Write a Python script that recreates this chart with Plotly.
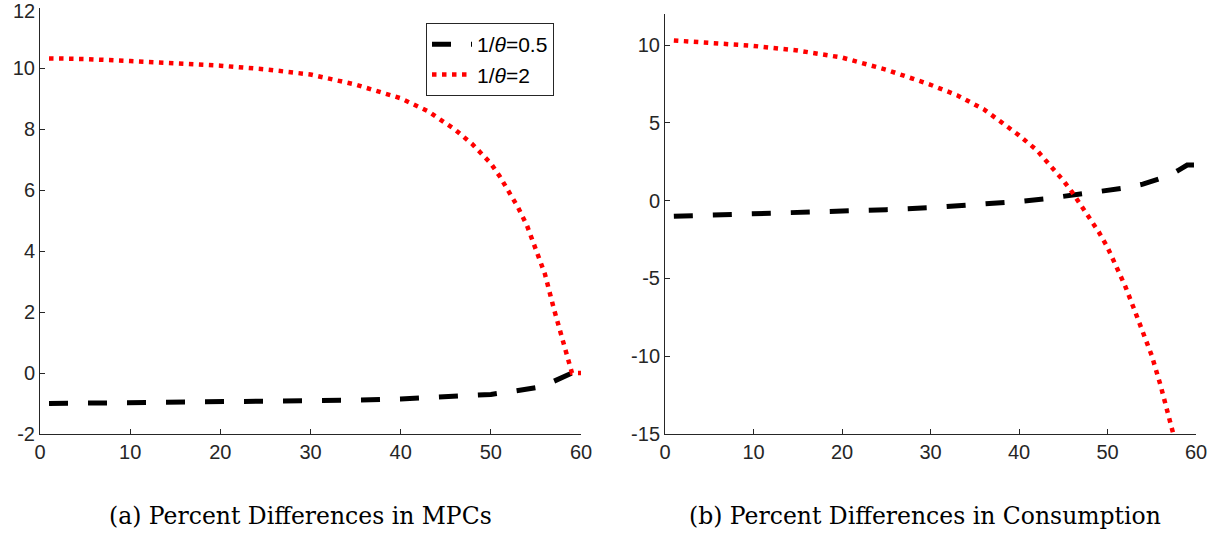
import plotly.graph_objects as go

# ---------------- data ----------------
# Panel (a): Percent Differences in MPCs
mpc_x_half = [1, 5, 10, 15, 20, 25, 30, 35, 40, 45, 48, 50, 52, 54, 55, 56, 57, 58, 59, 60]
mpc_y_half = [-1.0, -0.99, -0.98, -0.97, -0.96, -0.94, -0.92, -0.89, -0.85, -0.79,
              -0.74, -0.70, -0.62, -0.55, -0.48, -0.40, -0.28, -0.14, 0.0, 0.0]

mpc_x_two = [1, 5, 10, 15, 20, 25, 30, 35, 40, 43, 46, 48, 50, 51, 52, 53, 54, 55, 56, 57, 58, 59, 60]
mpc_y_two = [10.33, 10.31, 10.24, 10.17, 10.09, 9.97, 9.80, 9.47, 9.02, 8.60, 8.00, 7.50,
             6.88, 6.45, 5.98, 5.45, 4.85, 4.05, 3.25, 2.10, 1.00, 0.0, 0.0]

# Panel (b): Percent Differences in Consumption
con_x_half = [1, 5, 10, 15, 20, 25, 30, 35, 40, 43, 46, 48, 50, 52, 54, 55, 56, 57, 58, 59, 60]
con_y_half = [-1.0, -0.94, -0.88, -0.80, -0.70, -0.58, -0.45, -0.27, -0.05, 0.12, 0.34, 0.48,
              0.64, 0.82, 1.06, 1.22, 1.40, 1.62, 1.95, 2.29, 2.29]

con_x_two = [1, 5, 10, 15, 20, 25, 30, 33, 36, 38, 40, 42, 44, 45, 46, 47, 48, 49, 50,
             51, 52, 53, 54, 55, 56, 57, 58, 59, 60]
con_y_two = [10.30, 10.17, 9.95, 9.65, 9.20, 8.42, 7.45, 6.78, 5.88, 5.05, 4.20, 3.25, 1.97,
             1.30, 0.55, -0.31, -1.25, -2.00, -3.00, -4.19, -5.49, -6.96, -8.56, -9.96,
             -11.88, -13.93, -16.10, -18.40, -18.40]

legend_names = ["1/<i>θ</i>=0.5", "1/<i>θ</i>=2"]

x_ticks = [0, 10, 20, 30, 40, 50, 60]
x_ticktext = ["0", "10", "20", "30", "40", "50", "60"]
ya_ticks = [-2, 0, 2, 4, 6, 8, 10, 12]
ya_ticktext = ["-2", "0", "2", "4", "6", "8", "10", "12"]
yb_ticks = [-15, -10, -5, 0, 5, 10]
yb_ticktext = ["-15", "-10", "-5", "0", "5", "10"]

captions = ["(a) Percent Differences in MPCs", "(b) Percent Differences in Consumption"]

# ---------------- figure ----------------
W, H = 1224, 535
AX = "#262626"

black_line = dict(color="#000000", width=5, dash="19px,20px")
red_line = dict(color="#ff0000", width=4.5, dash="4.5px,5.5px")

fig = go.Figure()
fig.add_trace(go.Scatter(x=mpc_x_half, y=mpc_y_half, mode="lines", name=legend_names[0],
                         line=black_line, xaxis="x", yaxis="y"))
fig.add_trace(go.Scatter(x=mpc_x_two, y=mpc_y_two, mode="lines", name=legend_names[1],
                         line=red_line, xaxis="x", yaxis="y"))
fig.add_trace(go.Scatter(x=con_x_half, y=con_y_half, mode="lines", name=legend_names[0],
                         line=black_line, xaxis="x2", yaxis="y2", showlegend=False))
fig.add_trace(go.Scatter(x=con_x_two, y=con_y_two, mode="lines", name=legend_names[1],
                         line=red_line, xaxis="x2", yaxis="y2", showlegend=False))

tickfont = dict(family="Liberation Sans, Arial, sans-serif", size=20, color=AX)
common = dict(showline=True, linecolor=AX, linewidth=1, ticks="inside", ticklen=5,
              tickcolor=AX, tickwidth=1, showgrid=False, zeroline=False, mirror=False,
              tickfont=tickfont, fixedrange=True, automargin=False,
              ticklabeloverflow="allow")


def px_x(p):
    return p / W


def px_y(p):
    return 1 - p / H


# the top label of the left y axis sits at the very edge of the page; it is drawn
# as an annotation nudged down slightly (as in the reference) so it is not clipped
ya_ticktext_axis = [t if v != ya_ticks[-1] else "" for v, t in zip(ya_ticks, ya_ticktext)]

fig.update_layout(
    width=W, height=H,
    margin=dict(l=0, r=0, t=0, b=0, autoexpand=False),
    paper_bgcolor="white", plot_bgcolor="white",
    showlegend=True,
    xaxis=dict(domain=[px_x(40), px_x(581)], range=[0, 60], anchor="y",
               tickvals=x_ticks, ticktext=x_ticktext, **common),
    yaxis=dict(domain=[px_y(434), px_y(7.5)], range=[-2, 12], anchor="x",
               tickvals=ya_ticks, ticktext=ya_ticktext_axis, **common),
    xaxis2=dict(domain=[px_x(665), px_x(1196)], range=[0, 60], anchor="y2",
                tickvals=x_ticks, ticktext=x_ticktext, **common),
    yaxis2=dict(domain=[px_y(434), px_y(14)], range=[-15, 12], anchor="x2",
                tickvals=yb_ticks, ticktext=yb_ticktext, **common),
    legend=dict(x=px_x(426), y=px_y(23), xanchor="left", yanchor="top",
                bgcolor="white", bordercolor=AX, borderwidth=1,
                font=dict(family="Liberation Sans, Arial, sans-serif", size=21, color="#000000"),
                tracegroupgap=0, itemwidth=40),
    annotations=[
        dict(text=ya_ticktext[-1], x=px_x(40), y=ya_ticks[-1], xref="paper", yref="y",
             xanchor="right", yanchor="middle", xshift=-3, yshift=-4, showarrow=False,
             font=tickfont),
        dict(text=captions[0], x=px_x(300), y=px_y(516), xref="paper", yref="paper",
             xanchor="center", yanchor="middle", showarrow=False,
             font=dict(family="DejaVu Serif, serif", size=23.5, color="#000000")),
        dict(text=captions[1], x=px_x(925), y=px_y(516), xref="paper", yref="paper",
             xanchor="center", yanchor="middle", showarrow=False,
             font=dict(family="DejaVu Serif, serif", size=23.5, color="#000000")),
    ],
)

fig.write_html(
    "out.html",
    config={"displayModeBar": False},
    post_script="document.body.style.margin='0';document.body.style.overflow='hidden';",
)
